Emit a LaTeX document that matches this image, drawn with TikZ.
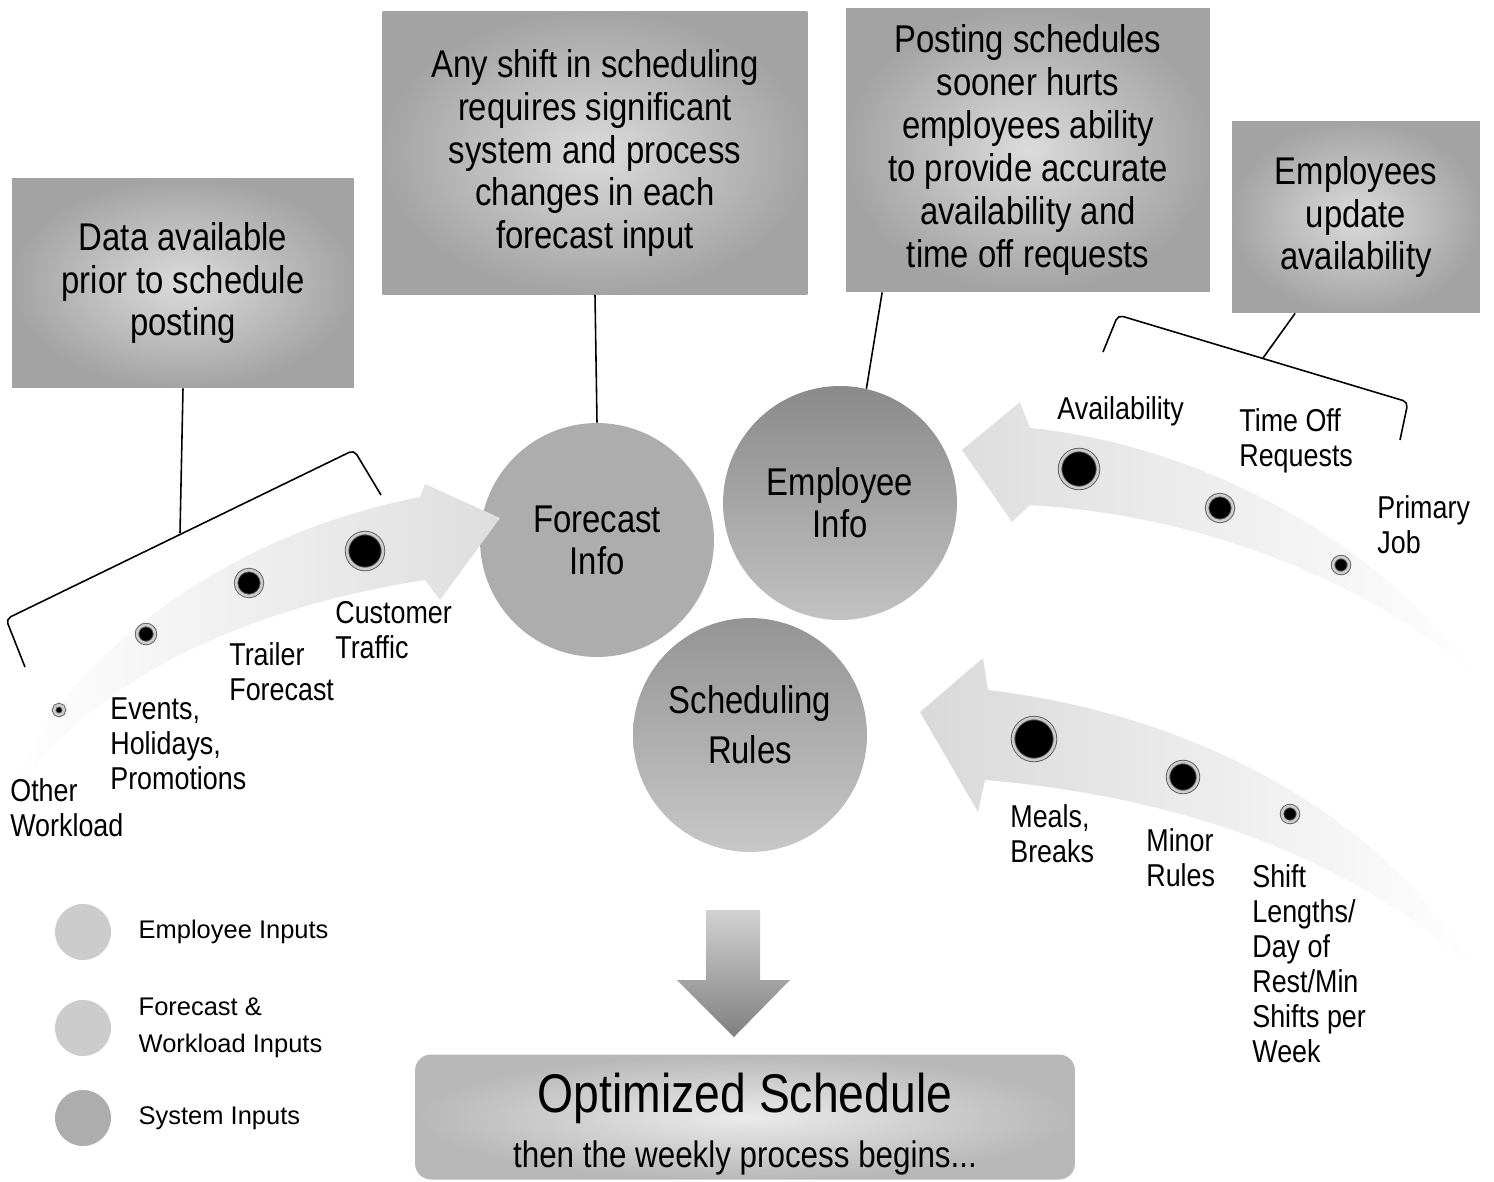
\documentclass[tikz,border=0pt]{standalone}
\usepackage{fontspec}
\setmainfont{Liberation Sans}[FakeStretch=0.85]
\newfontfamily\legendfont{Liberation Sans}
\usetikzlibrary{positioning,calc}

\begin{document}
\begin{tikzpicture}[x=0.02cm,y=-0.02cm,
  note/.style={rectangle,inner sep=0pt,align=center,inner color=black!14,outer color=black!36,font=\fontsize{22}{24.4}\selectfont},
  info/.style={circle,inner sep=0pt,minimum size=4.68cm,align=center,font=\fontsize{22}{24}\selectfont},
  item/.style={anchor=north west,inner sep=0pt,align=left,font=\fontsize{18}{20}\selectfont},
  dot/.style={circle,inner sep=0pt,fill=black,draw=black!65,double=black!20,double distance=1.5pt,line width=0.5pt},
  leg/.style={circle,inner sep=0pt,minimum size=1.12cm},
  legtext/.style={inner sep=0pt,align=left,font=\legendfont\fontsize{14.5}{21}\selectfont},
  bracket/.style={line width=0.9pt,rounded corners=3pt}]
\useasboundingbox (0,0) rectangle (1494,1181);

\node[note,minimum width=6.84cm,minimum height=4.2cm] (prior) at (183,283) {Data available\\prior to schedule\\posting};
\node[note,minimum width=8.5cm,minimum height=5.66cm] (anyshift) at (595,153) {Any shift in scheduling\\requires significant\\system and process\\changes in each\\forecast input};
\node[note,minimum width=7.28cm,minimum height=5.68cm] (sooner) at (1028,150) {Posting schedules\\sooner hurts\\employees ability\\to provide accurate\\availability and\\time off requests};
\node[note,minimum width=4.96cm,minimum height=3.84cm] (update) at (1356,217) {Employees\\update\\availability};

\node[info,fill=black!32] (fc) at (597,540) {Forecast\\Info};
\node[info,top color=black!46,bottom color=black!24] (emp) at (840,503) {Employee\\Info};
\node[info,top color=black!42,bottom color=black!22] (rules) at (750,735) {Scheduling\\[4pt]Rules\rule[-12pt]{0pt}{12pt}};

\shade[left color=white,right color=black!13] (12,790) .. controls (50,680) and (200,540) .. (420,497) -- (425,484) -- (500,518) -- (440,600) -- (425,580) .. controls (230,610) and (80,690) .. (18,795) -- cycle;
\shade[left color=black!13,right color=white] (962,450) -- (1020,402) -- (1030,428) .. controls (1200,445) and (1380,540) .. (1482,682) .. controls (1370,580) and (1200,515) .. (1030,505) -- (1012,522) -- cycle;
\shade[left color=black!15,right color=white] (920,712) -- (983,658) -- (988,690) .. controls (1200,715) and (1390,820) .. (1478,975) .. controls (1380,880) and (1220,800) .. (985,780) -- (978,812) -- cycle;

\node[dot,minimum size=0.2cm] (otherdot) at (59,710) {};
\node[dot,minimum size=0.36cm] (eventdot) at (146,634) {};
\node[dot,minimum size=0.52cm] (trailerdot) at (249,583) {};
\node[dot,minimum size=0.72cm] (trafficdot) at (365,551) {};
\node[dot,minimum size=0.76cm] (availdot) at (1079,469) {};
\node[dot,minimum size=0.52cm] (timeoffdot) at (1220,508) {};
\node[dot,minimum size=0.32cm] (jobdot) at (1341,565) {};
\node[dot,minimum size=0.84cm] (mealdot) at (1034,739) {};
\node[dot,minimum size=0.6cm] (minordot) at (1183,777) {};
\node[dot,minimum size=0.32cm] (shiftdot) at (1290,814) {};

\node[item] (other) at (10,778) {Other\\Workload};
\node[item] (events) at (110,697) {Events,\\Holidays,\\Promotions};
\node[item] (trailer) at (229,642) {Trailer\\Forecast};
\node[item] (traffic) at (335,601) {Customer\\Traffic};
\node[item] (avail) at (1057,396) {Availability};
\node[item] (timeoff) at (1239,408) {Time Off\\Requests};
\node[item] (job) at (1377,495) {Primary\\Job};
\node[item] (meals) at (1010,804) {Meals,\\Breaks};
\node[item] (minor) at (1146,828) {Minor\\Rules};
\node[item] (shiftlen) at (1252,864) {Shift\\Lengths/\\Day of\\Rest/Min\\Shifts per\\Week};

\coordinate (lefthub) at (180,533);
\coordinate (righthub) at (1263,358);
\draw[bracket] (25,667) -- (6,619) -- (354,450) -- (381,495);
\draw[bracket] (1103,352) -- (1118,315) -- (1408,402) -- (1400,440);
\draw[line width=0.9pt] (prior.south) -- (lefthub);
\draw[line width=0.9pt] (anyshift.south) -- (fc.north);
\draw[line width=0.9pt] ($(sooner.south west)!0.1!(sooner.south east)$) -- (emp.77);
\draw[line width=0.9pt] ($(update.south west)!0.255!(update.south east)$) -- (righthub);

\node[leg,fill=black!20] (legemp) at (83,932) {};
\node[leg,fill=black!20] (legfc) at (83,1028) {};
\node[leg,fill=black!32] (legsys) at (83,1118) {};
\node[legtext,right=0.54cm of legemp] (legemptext) {Employee Inputs};
\node[legtext,right=0.54cm of legfc] (legfctext) {Forecast \&\\Workload Inputs};
\node[legtext,right=0.54cm of legsys] (legsystext) {System Inputs};

\shade[top color=black!18,bottom color=black!50] (706,910) -- (760,910) -- (760,980) -- (790,980) -- (734,1037) -- (677,980) -- (706,980) -- cycle;

\node[rectangle,rounded corners=9pt,minimum width=13.2cm,minimum height=2.5cm,inner color=black!8,outer color=black!28] (result) at (745,1117) {};
\node[align=center,inner sep=0pt] (resulttext) at (745,1124) {{\fontsize{31}{31}\selectfont Optimized Schedule}\\[9pt]{\fontsize{21}{24}\selectfont then the weekly process begins...}};
\end{tikzpicture}
\end{document}
